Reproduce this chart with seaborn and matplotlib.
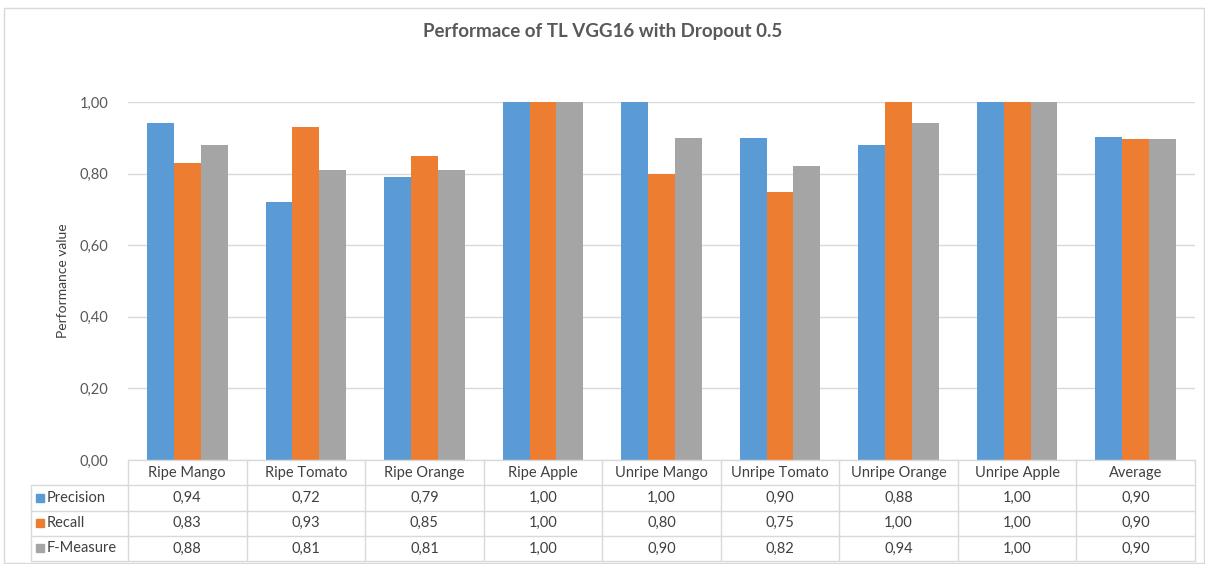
import numpy as np
import pandas as pd
import matplotlib
matplotlib.use("Agg")
import matplotlib.pyplot as plt
import seaborn as sns
from matplotlib.patches import Rectangle
from matplotlib.lines import Line2D

categories = ["Ripe Mango", "Ripe Tomato", "Ripe Orange", "Ripe Apple", "Unripe Mango",
              "Unripe Tomato", "Unripe Orange", "Unripe Apple", "Average"]
series = ["Precision", "Recall", "F-Measure"]
precision = [0.94, 0.72, 0.79, 1.00, 1.00, 0.90, 0.88, 1.00, 0.903]
recall = [0.83, 0.93, 0.85, 1.00, 0.80, 0.75, 1.00, 1.00, 0.896]
fmeasure = [0.88, 0.81, 0.81, 1.00, 0.90, 0.82, 0.94, 1.00, 0.896]
colors = ["#5B9BD5", "#ED7D31", "#A5A5A5"]
yticks = [0.0, 0.2, 0.4, 0.6, 0.8, 1.0]

df = pd.DataFrame({
    "category": categories * 3,
    "series": [s for s in series for _ in categories],
    "value": precision + recall + fmeasure,
})

sns.set_theme(style="white")
plt.rcParams["font.family"] = ["Lato", "DejaVu Sans"]
txt = "#404040"
grid = "#D9D9D9"

W, H = 1205, 564
fig = plt.figure(figsize=(W / 100, H / 100), dpi=100)
L, R, T, B = 128, 1195, 102, 460
ax = fig.add_axes([L / W, 1 - B / H, (R - L) / W, (B - T) / H])

sns.barplot(data=df, x="category", y="value", hue="series", palette=colors,
            saturation=1, width=0.68, order=categories, hue_order=series,
            legend=False, linewidth=0, ax=ax)

ax.set_xlim(-0.5, len(categories) - 0.5)
ax.set_ylim(0, 1)
ax.set_yticks(yticks)
ax.set_yticklabels([f"{v:.2f}".replace(".", ",") for v in yticks], color="#595959", fontsize=10.5)
ax.yaxis.grid(True, color=grid, linewidth=1)
ax.set_axisbelow(True)
ax.set_xticks([])
ax.set_xlabel("")
ax.set_ylabel("Performance value", fontsize=10, color=txt, labelpad=8)
ax.tick_params(axis="y", length=0, pad=14)
for s in ax.spines.values():
    s.set_visible(False)

fig.text(0.5, 1 - 32 / H, "Performace of TL VGG16 with Dropout 0.5", ha="center", va="center",
         fontsize=13.5, fontweight="bold", color="#595959")

# data table under the bars, drawn in pixel space
def fx(px):
    return px / W

def fy(py):
    return 1 - py / H

rows = [460, 485.3, 510.6, 535.9, 561]
left = 31
colw = (R - L) / len(categories)

def hline(py, x0, x1):
    fig.add_artist(Line2D([fx(x0), fx(x1)], [fy(py), fy(py)], color=grid, lw=1))

def vline(px, y0, y1):
    fig.add_artist(Line2D([fx(px), fx(px)], [fy(y0), fy(y1)], color=grid, lw=1))

hline(rows[0], L, R)
for py in rows[1:]:
    hline(py, left, R)
vline(left, rows[1], rows[-1])
for i in range(len(categories) + 1):
    vline(L + i * colw, rows[0], rows[-1])

for i, c in enumerate(categories):
    fig.text(fx(L + (i + 0.5) * colw), fy((rows[0] + rows[1]) / 2), c, ha="center", va="center",
             fontsize=10.5, color=txt)

for r, (name, vals, col) in enumerate(zip(series, [precision, recall, fmeasure], colors)):
    yc = (rows[r + 1] + rows[r + 2]) / 2
    fig.add_artist(Rectangle((fx(36), fy(yc + 4)), 8 / W, 8 / H, color=col))
    fig.text(fx(47), fy(yc), name, ha="left", va="center", fontsize=10.5, color=txt)
    for i, v in enumerate(vals):
        fig.text(fx(L + (i + 0.5) * colw), fy(yc), f"{v:.2f}".replace(".", ","),
                 ha="center", va="center", fontsize=10.5, color=txt)

# outer chart border
fig.add_artist(Rectangle((fx(4), fy(563)), fx(W - 5), (563 - 8) / H, fill=False,
                         edgecolor=grid, lw=1))

fig.savefig("out.png", dpi=100)
